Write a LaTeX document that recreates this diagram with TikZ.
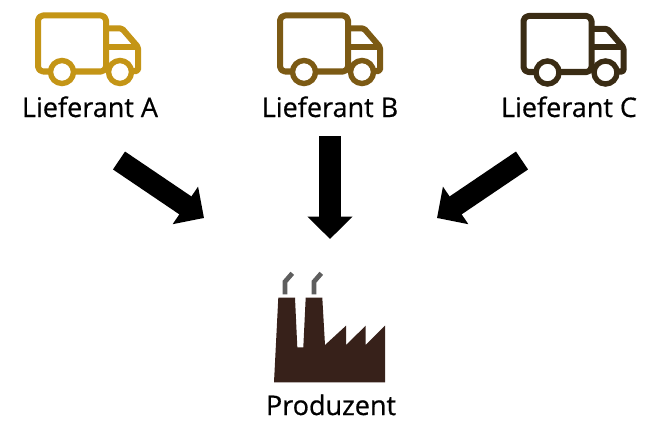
\documentclass[tikz,border=0pt]{standalone}
\usepackage{fontspec}
\setmainfont[FakeBold=0.6]{Open Sans}
\usetikzlibrary{arrows.meta}
\definecolor{truckA}{HTML}{C49516}
\definecolor{truckB}{HTML}{7C5A14}
\definecolor{truckC}{HTML}{3A2C14}
\definecolor{factory}{HTML}{37211A}
\definecolor{smoke}{HTML}{5E5E5E}
\tikzset{
  x=1pt,y=-1pt,
  lbl/.style={font=\fontsize{27}{29}\selectfont,text=black,anchor=base,inner sep=0pt},
  bigarrow/.style={line width=21.6pt,black,-{Triangle[length=22.5pt,width=44pt]}},
  truck/.pic={
    \draw[line width=6pt,line join=round,rounded corners=5pt,pic actions]
      (50,71.5) -- (38,71.5) -- (38,15.5) -- (106,15.5) -- (106,71.5) -- (74,71.5);
    \draw[line width=6pt,line join=round,rounded corners=1.5pt,pic actions]
      (106,28.5) -- (122,28.5) -- (138,47) -- (138,71) -- (132,71);
    \draw[line width=6pt,pic actions] (106,47) -- (138,47);
    \draw[line width=5.4pt,pic actions] (62,72) circle[radius=11.5];
    \draw[line width=5.4pt,pic actions] (120,72) circle[radius=11.5];
  }
}
\begin{document}
\begin{tikzpicture}
\useasboundingbox (0,0) rectangle (661,436);
\fill[white] (0,0) rectangle (661,436);
\pic[draw=truckA] at (0,0) {truck};
\pic[draw=truckB] at (242,0) {truck};
\pic[draw=truckC] at (485.5,0.5) {truck};
\node[lbl] (la) at (90,117) {Lieferant A};
\node[lbl] (lb) at (330,117) {Lieferant B};
\node[lbl] (lc) at (569,117) {Lieferant C};
\node[lbl] (prod) at (331,415) {Produzent};
\coordinate (a0) at (119,160.5);
\coordinate (a1) at (204,218);
\coordinate (b0) at (330,136);
\coordinate (b1) at (330,239);
\coordinate (c0) at (522,160.5);
\coordinate (c1) at (437,218);
\draw[bigarrow] (a0) -- (a1);
\draw[bigarrow] (b0) -- (b1);
\draw[bigarrow] (c0) -- (c1);
\fill[factory] (274,382.3) -- (278.3,297.7) -- (295,297.7) -- (297.3,347.3) -- (303.3,347.3)
  -- (305.7,297.7) -- (322.3,297.7) -- (325,345) -- (346,325.7) -- (346,345)
  -- (365.7,325.7) -- (365.7,345) -- (385,325.7) -- (385,382.3) -- cycle;
\draw[smoke,line width=4.7pt] (285,294.3) -- (285,281.7) -- (292.3,273.3);
\draw[smoke,line width=4.7pt] (314,294.3) -- (314,281.7) -- (321.3,273.3);
\end{tikzpicture}
\end{document}
